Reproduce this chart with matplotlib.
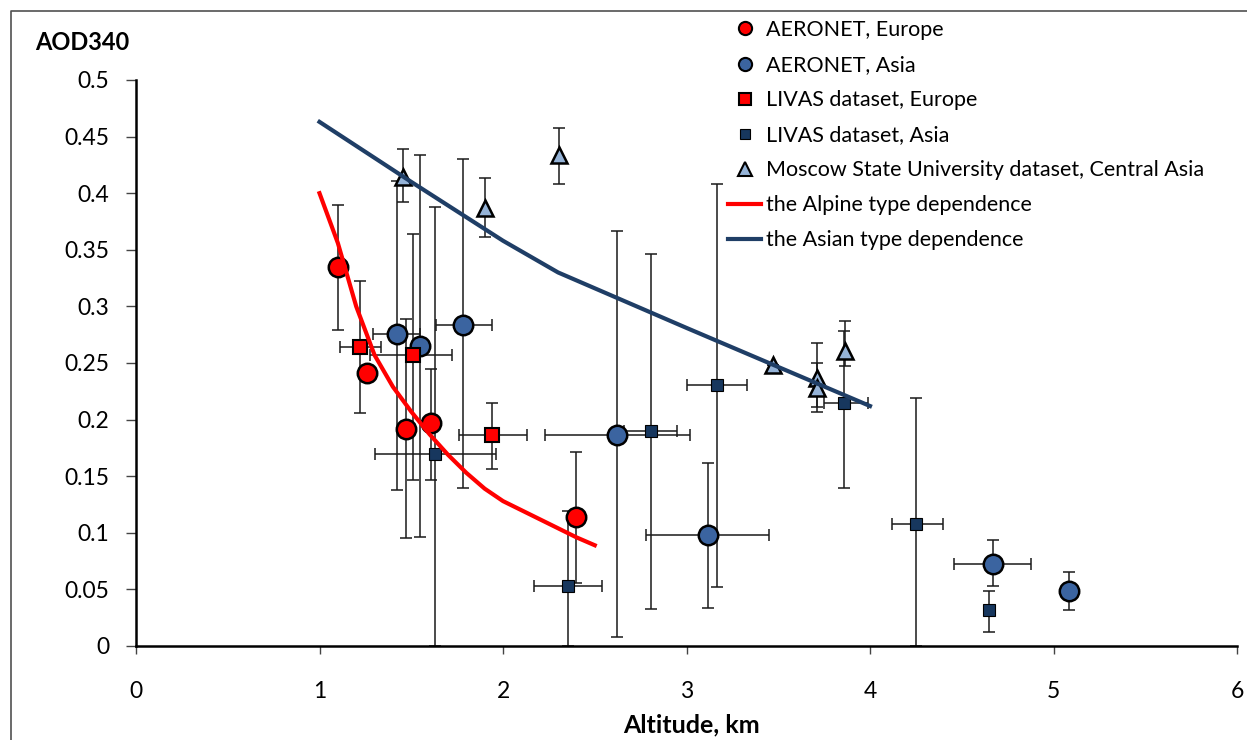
import numpy as np
import matplotlib
matplotlib.use("Agg")
import matplotlib.pyplot as plt
from matplotlib.lines import Line2D
from matplotlib.ticker import MultipleLocator, FuncFormatter

plt.rcParams['font.family'] = ['Lato', 'DejaVu Sans']

# AERONET, Europe
aer_eu_x = [1.10, 1.26, 1.47, 1.605, 2.40]
aer_eu_y = [0.335, 0.241, 0.192, 0.197, 0.114]
aer_eu_ylo = [0.279, 0.241, 0.095, 0.147, 0.056]
aer_eu_yhi = [0.390, 0.241, 0.289, 0.245, 0.171]

# AERONET, Asia
aer_as_x = [1.42, 1.55, 1.78, 2.62, 3.115, 4.67, 5.085]
aer_as_y = [0.276, 0.265, 0.284, 0.186, 0.098, 0.0725, 0.0486]
aer_as_ylo = [0.138, 0.096, 0.140, 0.008, 0.034, 0.053, 0.032]
aer_as_yhi = [0.411, 0.434, 0.430, 0.367, 0.162, 0.094, 0.065]
aer_as_xlo = [1.29, 1.55, 1.635, 2.23, 2.78, 4.46, 5.085]
aer_as_xhi = [1.55, 1.55, 1.94, 3.02, 3.45, 4.88, 5.085]

# LIVAS dataset, Europe
liv_eu_x = [1.22, 1.51, 1.94]
liv_eu_y = [0.264, 0.257, 0.186]
liv_eu_ylo = [0.206, 0.147, 0.156]
liv_eu_yhi = [0.322, 0.364, 0.215]
liv_eu_xlo = [1.11, 1.275, 1.76]
liv_eu_xhi = [1.335, 1.72, 2.13]

# LIVAS dataset, Asia
liv_as_x = [1.628, 2.355, 2.805, 3.166, 3.86, 4.25, 4.65]
liv_as_y = [0.170, 0.053, 0.190, 0.231, 0.215, 0.108, 0.032]
liv_as_ylo = [0.0, 0.0, 0.033, 0.052, 0.140, 0.0, 0.012]
liv_as_yhi = [0.388, 0.119, 0.346, 0.408, 0.278, 0.219, 0.049]
liv_as_xlo = [1.30, 2.17, 2.66, 3.0, 3.75, 4.12, 4.65]
liv_as_xhi = [1.96, 2.54, 2.95, 3.33, 3.99, 4.40, 4.65]

# Moscow State University dataset, Central Asia
msu_x = [1.455, 1.90, 2.305, 3.47, 3.71, 3.71, 3.865]
msu_y = [0.414, 0.387, 0.434, 0.248, 0.237, 0.228, 0.261]
msu_ylo = [0.392, 0.361, 0.408, 0.248, 0.211, 0.207, 0.247]
msu_yhi = [0.439, 0.413, 0.458, 0.248, 0.268, 0.250, 0.287]

# dependences
alp_x = [1.0, 1.1, 1.2, 1.3, 1.4, 1.5, 1.6, 1.7, 1.8, 1.9, 2.0, 2.1, 2.2, 2.3, 2.4, 2.5]
alp_y = [0.400, 0.356, 0.300, 0.257, 0.229, 0.207, 0.187, 0.169, 0.153, 0.139, 0.128,
         0.120, 0.112, 0.104, 0.096, 0.089]
asi_x = [1.0, 1.5, 2.0, 2.3, 3.0, 4.0]
asi_y = [0.463, 0.410, 0.358, 0.330, 0.281, 0.212]

red = "#FF0000"
blue = "#3B64A0"
navy = "#17375E"
lblue = "#95B3D7"
asian_col = "#1F3E66"


def err(v, lo, hi):
    v = np.array(v)
    return [v - np.array(lo), np.array(hi) - v]


fig = plt.figure(figsize=(12.47, 7.40), dpi=100)
ax = fig.add_axes([136 / 1247, 1 - 646 / 740, (1237 - 136) / 1247, (646 - 80) / 740])

eb = dict(fmt="none", ecolor="#1a1a1a", elinewidth=1.1, capsize=4, capthick=1.1, zorder=2)
ax.errorbar(aer_eu_x, aer_eu_y, yerr=err(aer_eu_y, aer_eu_ylo, aer_eu_yhi), **eb)
ax.errorbar(aer_as_x, aer_as_y, yerr=err(aer_as_y, aer_as_ylo, aer_as_yhi),
            xerr=err(aer_as_x, aer_as_xlo, aer_as_xhi), **eb)
ax.errorbar(liv_eu_x, liv_eu_y, yerr=err(liv_eu_y, liv_eu_ylo, liv_eu_yhi),
            xerr=err(liv_eu_x, liv_eu_xlo, liv_eu_xhi), **eb)
ax.errorbar(liv_as_x, liv_as_y, yerr=err(liv_as_y, liv_as_ylo, liv_as_yhi),
            xerr=err(liv_as_x, liv_as_xlo, liv_as_xhi), **eb)
ax.errorbar(msu_x, msu_y, yerr=err(msu_y, msu_ylo, msu_yhi), **eb)

ax.plot(aer_eu_x, aer_eu_y, "o", ms=14, mfc=red, mec="black", mew=1.8, zorder=3)
ax.plot(aer_as_x, aer_as_y, "o", ms=14, mfc=blue, mec="black", mew=1.8, zorder=3)
ax.plot(liv_eu_x, liv_eu_y, "s", ms=9.5, mfc=red, mec="black", mew=1.5, zorder=4)
ax.plot(liv_as_x, liv_as_y, "s", ms=8.5, mfc=navy, mec="black", mew=0.8, zorder=4)
ax.plot(msu_x, msu_y, "^", ms=12, mfc=lblue, mec="black", mew=1.8, zorder=4)

ax.plot(alp_x, alp_y, color=red, lw=3, zorder=5)
ax.plot(asi_x, asi_y, color=asian_col, lw=3, zorder=5)

ax.set_xlim(0, 6)
ax.set_ylim(0, 0.5)
ax.xaxis.set_major_locator(MultipleLocator(1))
ax.yaxis.set_major_locator(MultipleLocator(0.05))
ax.yaxis.set_major_formatter(FuncFormatter(lambda v, p: "%g" % round(v, 2)))
for s in ["top", "right"]:
    ax.spines[s].set_visible(False)
for s in ["left", "bottom"]:
    ax.spines[s].set_linewidth(1.8)
ax.tick_params(axis="y", direction="out", length=7, width=1, color="#444444",
               labelsize=16.5, pad=12)
ax.tick_params(axis="x", direction="out", length=6, width=1, color="#444444",
               labelsize=16.5, pad=19)

fig.text(35 / 1247, 1 - 42 / 740, "AOD340", fontsize=17, fontweight="bold",
         ha="left", va="center")
fig.text(691 / 1247, 1 - 725 / 740, "Altitude, km", fontsize=18, fontweight="bold",
         ha="center", va="center")

# outer chart frame
fig.add_artist(Line2D([11 / 1247, 11 / 1247, 1.0], [0.0, 1 - 11 / 740, 1 - 11 / 740],
                      transform=fig.transFigure, color="#505050", lw=1.2))

handles = [
    Line2D([], [], ls="none", marker="o", ms=9.5, mfc=red, mec="black", mew=1.5),
    Line2D([], [], ls="none", marker="o", ms=9.5, mfc=blue, mec="black", mew=1.5),
    Line2D([], [], ls="none", marker="s", ms=9, mfc=red, mec="black", mew=1.5),
    Line2D([], [], ls="none", marker="s", ms=7.5, mfc=navy, mec="black", mew=0.8),
    Line2D([], [], ls="none", marker="^", ms=10.5, mfc=lblue, mec="black", mew=1.5),
    Line2D([], [], color=red, lw=3),
    Line2D([], [], color=asian_col, lw=3),
]
labels = ["AERONET, Europe", "AERONET, Asia", "LIVAS dataset, Europe",
          "LIVAS dataset, Asia", "Moscow State University dataset, Central Asia",
          "the Alpine type dependence", "the Asian type dependence"]
fig.legend(handles, labels, loc="upper left", bbox_to_anchor=(728 / 1247, 1 - 20 / 740),
           frameon=False, fontsize=15.5, borderpad=0, borderaxespad=0,
           handlelength=1.55, handletextpad=0.2, labelspacing=0.7)

fig.savefig("out.png", dpi=100)
